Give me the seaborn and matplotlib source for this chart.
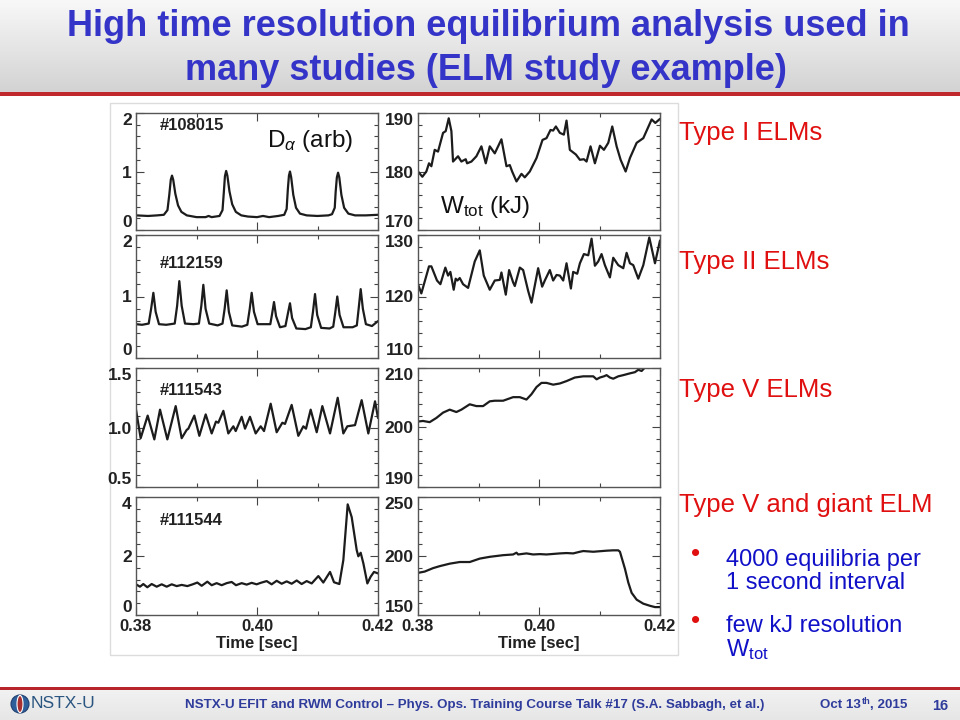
import numpy as np
import pandas as pd
import matplotlib
matplotlib.use("Agg")
import matplotlib.pyplot as plt
import seaborn as sns
from matplotlib import font_manager
from matplotlib.patches import Rectangle, Ellipse
from matplotlib.ticker import MultipleLocator, FixedLocator

# ---------------- data (time in ms) ----------------
shots = ["#108015", "#112159", "#111543", "#111544"]
shot_label_y = [0.895, 0.77, 0.815, 0.805]
elm_types = ["Type I ELMs", "Type II ELMs", "Type V ELMs", "Type V and giant ELM"]

t_da1 = [380.0, 382.0, 383.5, 384.6, 385.2, 385.5, 385.75, 385.95, 386.15, 386.5,
         386.95, 387.5, 388.4, 390.0, 391.5, 392.0, 392.5, 393.8, 394.3, 394.5,
         394.7, 394.9, 395.1, 395.45, 395.9, 396.5, 397.4, 398.5, 400.0, 401.0,
         402.0, 403.5, 404.5, 404.9, 405.1, 405.28, 405.45, 405.65, 406.0, 406.45,
         407.1, 408.2, 410.0, 411.8, 412.4, 412.85, 413.0, 413.2, 413.4, 413.6,
         413.95, 414.4, 415.1, 416.2, 418.0, 420.0]
da1 = [0.25, 0.24, 0.25, 0.26, 0.34, 0.60, 0.86, 0.93, 0.86, 0.62,
       0.42, 0.31, 0.25, 0.22, 0.22, 0.24, 0.22, 0.24, 0.34, 0.62,
       0.92, 1.01, 0.93, 0.66, 0.44, 0.31, 0.25, 0.23, 0.22, 0.24,
       0.22, 0.24, 0.26, 0.36, 0.70, 0.93, 1.00, 0.90, 0.60, 0.38,
       0.28, 0.25, 0.24, 0.25, 0.27, 0.38, 0.65, 0.90, 0.98, 0.90,
       0.60, 0.38, 0.28, 0.25, 0.25, 0.26]

t_da2 = [380.0, 381.0, 382.1, 382.5, 382.87, 383.25, 383.8, 385.0, 386.4, 386.8,
         387.16, 387.55, 388.1, 389.5, 390.4, 390.8, 391.13, 391.5, 392.1, 393.5,
         394.3, 394.65, 394.99, 395.35, 395.9, 397.5, 398.4, 398.8, 399.12, 399.5,
         400.1, 401.0, 402.2, 402.5, 402.81, 403.15, 403.8, 404.7, 405.1, 405.45,
         405.8, 406.5, 408.0, 408.9, 409.25, 409.59, 409.95, 410.6, 412.0, 412.6,
         412.95, 413.27, 413.65, 414.3, 415.8, 416.5, 416.8, 417.14, 417.5, 418.0,
         419.0, 420.0]
da2 = [0.55, 0.54, 0.56, 0.80, 1.06, 0.75, 0.55, 0.54, 0.56, 0.85,
       1.25, 0.85, 0.56, 0.55, 0.56, 0.85, 1.19, 0.80, 0.56, 0.53,
       0.56, 0.80, 1.10, 0.75, 0.53, 0.51, 0.54, 0.80, 1.06, 0.75,
       0.55, 0.55, 0.55, 0.72, 0.91, 0.68, 0.50, 0.52, 0.72, 0.89,
       0.65, 0.48, 0.47, 0.50, 0.75, 1.04, 0.70, 0.49, 0.48, 0.51,
       0.75, 1.00, 0.70, 0.50, 0.50, 0.53, 0.80, 1.12, 0.80, 0.55,
       0.52, 0.60]

t_da3 = [380.00, 380.77, 381.93, 383.03, 383.97, 385.18, 386.56, 387.55, 388.38, 388.65,
         389.64, 390.47, 391.52, 392.51, 393.22, 393.61, 394.44, 395.26, 396.09, 396.48,
         397.47, 398.02, 398.84, 399.78, 400.61, 401.16, 402.26, 403.25, 404.19, 404.63,
         405.73, 406.83, 407.66, 408.10, 408.87, 409.87, 410.80, 412.07, 413.34, 414.27,
         414.93, 416.20, 417.30, 418.40, 419.51, 420.00]
da3 = [1.15, 0.91, 1.10, 0.90, 1.15, 0.90, 1.18, 0.91, 0.98, 0.99,
       1.10, 0.93, 1.11, 0.95, 1.05, 1.04, 1.14, 0.95, 1.01, 0.97,
       1.09, 0.99, 1.09, 0.95, 1.01, 0.97, 1.20, 0.96, 1.04, 1.03,
       1.19, 0.93, 1.01, 0.99, 1.15, 0.96, 1.18, 0.95, 1.25, 0.95,
       1.01, 1.02, 1.23, 0.95, 1.22, 1.08]

t_da4 = [380.00, 380.66, 381.21, 381.87, 382.59, 383.42, 384.24, 385.07, 385.90, 386.72,
         387.55, 388.49, 389.37, 390.14, 390.85, 391.79, 392.51, 393.33, 394.16, 394.99,
         395.81, 396.53, 397.47, 398.29, 399.12, 399.94, 400.61, 401.60, 402.42, 403.25,
         404.08, 404.90, 405.73, 406.56, 407.38, 408.21, 409.04, 410.14, 410.96, 412.07,
         412.73, 413.61, 414.27, 414.99, 415.65, 416.48, 416.75, 417.14, 417.58, 418.24,
         418.79, 419.34, 420.00]
da4 = [1.04, 0.96, 1.05, 0.94, 1.05, 0.96, 1.04, 0.96, 1.04, 0.98,
       1.02, 0.98, 1.04, 1.10, 0.99, 1.13, 1.01, 1.08, 1.01, 1.08,
       1.12, 1.01, 1.08, 1.03, 1.09, 1.04, 1.09, 1.15, 1.04, 1.16,
       1.06, 1.14, 1.06, 1.17, 1.05, 1.15, 1.07, 1.32, 1.10, 1.46,
       1.11, 1.05, 1.86, 3.75, 3.32, 2.20, 1.99, 2.11, 1.75, 1.07,
       1.30, 1.46, 1.41]

t_w1 = [380.00, 380.72, 381.38, 381.82, 382.21, 382.76, 383.31, 384.14, 384.58, 385.08,
        385.52, 385.79, 386.62, 387.17, 387.89, 388.11, 388.83, 389.65, 390.48, 391.20,
        391.86, 392.69, 393.79, 394.62, 395.17, 395.56, 396.28, 397.10, 397.65, 398.48,
        399.59, 400.58, 401.24, 401.90, 402.34, 402.79, 403.45, 404.11, 404.55, 405.10,
        406.10, 406.76, 407.42, 407.86, 408.52, 409.24, 410.07, 410.73, 411.45, 412.11,
        412.83, 413.49, 414.32, 415.03, 416.14, 417.24, 418.62, 419.23, 420.00]
w1 = [180.0, 179.1, 180.0, 181.4, 180.9, 183.7, 183.4, 186.6, 186.9, 189.1,
      186.9, 181.7, 182.6, 181.7, 182.1, 181.4, 181.7, 182.6, 184.3, 181.4,
      184.3, 183.1, 185.5, 180.9, 181.1, 180.0, 178.3, 179.6, 179.0, 180.0,
      182.3, 185.4, 185.7, 187.1, 187.0, 187.7, 186.6, 186.3, 188.7, 183.7,
      182.9, 182.0, 182.1, 181.7, 184.3, 181.4, 184.4, 183.7, 184.9, 187.7,
      184.3, 182.0, 180.0, 182.3, 184.9, 185.7, 188.9, 188.3, 189.0]

t_w2 = [380.00, 380.55, 381.82, 382.21, 383.14, 383.70, 384.52, 384.97, 385.35, 385.90,
        386.23, 386.51, 386.90, 387.45, 388.28, 389.38, 390.21, 390.87, 391.86, 392.69,
        393.52, 393.79, 394.51, 395.06, 395.72, 396.00, 396.83, 397.38, 398.21, 398.76,
        399.86, 400.52, 400.96, 401.79, 402.34, 402.90, 403.45, 404.00, 404.55, 405.27,
        405.65, 406.32, 406.76, 407.42, 408.14, 408.69, 409.24, 409.79, 410.34, 410.89,
        411.72, 412.27, 413.10, 413.93, 414.48, 415.03, 415.58, 416.41, 417.24, 418.23,
        419.17, 420.00]
w2 = [122.0, 120.5, 124.9, 124.9, 122.6, 122.0, 124.7, 123.4, 124.0, 121.1,
      122.9, 122.6, 123.0, 122.0, 121.4, 125.7, 127.5, 123.4, 121.1, 122.6,
      122.7, 123.9, 120.3, 124.3, 122.3, 121.7, 124.7, 124.3, 120.9, 119.0,
      124.6, 121.6, 122.6, 124.3, 122.6, 123.5, 123.4, 122.6, 125.4, 121.3,
      124.0, 123.7, 125.4, 126.9, 126.7, 129.4, 125.0, 125.7, 126.9, 125.1,
      123.1, 126.3, 125.1, 124.6, 127.1, 125.4, 125.1, 122.9, 125.1, 129.6,
      125.4, 129.1]

t_w3 = [380.00, 380.83, 381.93, 383.03, 384.14, 385.24, 386.34, 387.17, 388.55, 389.65,
        390.76, 391.86, 392.69, 394.07, 395.72, 396.83, 397.93, 398.76, 399.59, 400.41,
        401.24, 402.34, 403.45, 404.55, 405.93, 407.31, 408.97, 409.52, 410.07, 410.73,
        411.17, 411.72, 412.27, 413.10, 413.93, 415.03, 415.86, 416.41, 416.96, 417.52,
        418.07, 418.62, 419.17, 419.72, 420.00]
w3 = [201.0, 201.1, 200.9, 201.6, 202.5, 203.0, 202.6, 203.0, 203.9, 203.6,
      203.6, 204.4, 204.5, 204.5, 205.1, 205.1, 204.7, 205.6, 206.8, 207.5,
      207.5, 207.2, 207.4, 207.8, 208.4, 208.6, 208.6, 208.1, 208.4, 208.6,
      208.8, 208.4, 208.2, 208.6, 208.8, 209.1, 209.3, 209.7, 209.5, 210.1,
      210.0, 210.6, 210.3, 210.6, 210.1]

t_w4 = [380.00, 381.10, 382.48, 383.59, 385.24, 386.90, 388.55, 390.21, 391.86, 394.07,
        395.72, 396.28, 396.55, 397.93, 399.03, 400.14, 401.24, 403.45, 404.55, 405.65,
        406.76, 407.31, 408.97, 411.17, 412.27, 413.10, 413.38, 414.21, 414.76, 415.31,
        416.14, 417.24, 418.34, 419.17, 420.00]
w4 = [185.7, 186.8, 189.7, 191.4, 193.5, 194.9, 194.9, 197.8, 199.3, 200.7,
      201.3, 202.8, 201.3, 202.2, 201.3, 201.6, 201.3, 202.2, 202.5, 202.2,
      203.6, 204.2, 203.6, 204.5, 204.8, 204.8, 203.6, 189.1, 177.5, 168.8,
      163.0, 159.6, 157.8, 156.7, 156.7]

da_ylims = [(0, 2), (0, 2), (0.5, 1.5), (0, 4)]
da_yticks = [[0, 1, 2], [0, 1, 2], [0.5, 1.0, 1.5], [0, 2, 4]]
da_yticklabels = [["0", "1", "2"], ["0", "1", "2"], ["0.5", "1.0", "1.5"], ["0", "2", "4"]]
w_ylims = [(170, 190), (110, 130), (190, 210), (150, 250)]
w_yticks = [[170, 180, 190], [110, 120, 130], [190, 200, 210], [150, 200, 250]]
x_ticks = [0.38, 0.40, 0.42]
x_ticklabels = ["0.38", "0.40", "0.42"]

# ---------------- style ----------------
sns.set_theme(style="ticks")
names = {f.name for f in font_manager.fontManager.ttflist}
NARROW = "Liberation Sans Narrow" if "Liberation Sans Narrow" in names else "Liberation Sans"
SANS = "Liberation Sans"
plt.rcParams["font.family"] = [SANS, "DejaVu Sans"]
plt.rcParams["mathtext.fontset"] = "custom"
plt.rcParams["mathtext.rm"] = SANS
plt.rcParams["mathtext.it"] = SANS + ":italic"
plt.rcParams["mathtext.bf"] = SANS + ":bold"

W, H = 960, 720
fig = plt.figure(figsize=(9.6, 7.2), dpi=100)
fig.patch.set_facecolor("white")

def fx(px):
    return px / W

def fy(py):
    return 1 - py / H

# header gradient
hax = fig.add_axes([0, fy(92), 1, 92 / H], zorder=0)
grad = np.linspace(0, 1, 100).reshape(-1, 1)
hax.imshow(grad, aspect="auto", cmap=matplotlib.colors.LinearSegmentedColormap.from_list(
    "g", ["#f8f8f8", "#d3d3d3"]), extent=[0, 1, 0, 1], origin="upper")
hax.set_axis_off()
fig.add_artist(Rectangle((0, fy(96)), 1, 4 / H, transform=fig.transFigure,
                         facecolor="#c0282d", edgecolor="none"))
# footer
fax = fig.add_axes([0, 0, 1, 31 / H], zorder=0)
fax.imshow(grad, aspect="auto", cmap=matplotlib.colors.LinearSegmentedColormap.from_list(
    "g2", ["#f2f2f2", "#e6e6e6"]), extent=[0, 1, 0, 1])
fax.set_axis_off()
fig.add_artist(Rectangle((0, fy(690)), 1, 3 / H, transform=fig.transFigure,
                         facecolor="#b8262b", edgecolor="none"))

# title
title_col = "#3434c8"
fig.text(fx(488), fy(26), "High time resolution equilibrium analysis used in",
         ha="center", va="center", fontsize=26, fontweight="bold", color=title_col,
         family=[NARROW, "DejaVu Sans"])
fig.text(fx(486), fy(70), "many studies (ELM study example)",
         ha="center", va="center", fontsize=26, fontweight="bold", color=title_col,
         family=[NARROW, "DejaVu Sans"])

# chart frame
fig.add_artist(Rectangle((fx(110), fy(655)), fx(678) - fx(110), fy(103) - fy(655),
                         transform=fig.transFigure, facecolor="white",
                         edgecolor="#dcdcdc", linewidth=1.0, zorder=0.5))

rows = [(113, 230), (235, 358), (368, 487), (497, 615)]
cols = [(136, 378), (418, 660)]
line_col = "#1c1c1c"
da_t = [t_da1, t_da2, t_da3, t_da4]
da_v = [da1, da2, da3, da4]
w_t = [t_w1, t_w2, t_w3, t_w4]
w_v = [w1, w2, w3, w4]

def style_axis(ax, ylim, yticks, ylabels, bottom_row):
    ax.set_xlim(0.38, 0.42)
    ax.set_ylim(*ylim)
    ax.xaxis.set_major_locator(FixedLocator(x_ticks))
    ax.xaxis.set_minor_locator(FixedLocator([0.39, 0.41]))
    ax.set_yticks(yticks)
    ax.set_yticklabels(ylabels)
    step = yticks[1] - yticks[0]
    ax.yaxis.set_minor_locator(MultipleLocator(step / 5))
    if bottom_row:
        ax.set_xticklabels(x_ticklabels)
        ax.set_xlabel("Time [sec]", fontsize=12, fontweight="bold", labelpad=1, color="#222222")
    else:
        ax.set_xticklabels([])
        ax.set_xlabel("")
    ax.set_ylabel("")
    ax.tick_params(which="both", direction="in", top=True, right=True,
                   color="#444444", width=0.8)
    ax.tick_params(which="major", length=6, pad=3, labelsize=12.5, labelcolor="#222222")
    ax.tick_params(axis="x", which="major", labelsize=12)
    ax.tick_params(which="minor", length=3)
    for lab in ax.get_xticklabels() + ax.get_yticklabels():
        lab.set_fontweight("bold")
    ylabs = ax.get_yticklabels()
    ylabs[0].set_verticalalignment("bottom")
    ylabs[-1].set_verticalalignment("top")
    for s in ax.spines.values():
        s.set_color("#555555")
        s.set_linewidth(1.0)
        s.set_visible(True)
    ax.set_facecolor("white")

for i, (top, bot) in enumerate(rows):
    for j, (left, right) in enumerate(cols):
        ax = fig.add_axes([fx(left), fy(bot), fx(right) - fx(left), fy(top) - fy(bot)], zorder=2)
        if j == 0:
            tt, vv = da_t[i], da_v[i]
            ylim, yt = da_ylims[i], da_yticks[i]
            yl = da_yticklabels[i]
        else:
            tt, vv = w_t[i], w_v[i]
            ylim, yt = w_ylims[i], w_yticks[i]
            yl = [str(v) for v in yt]
        assert len(tt) == len(vv)
        df = pd.DataFrame({"t": np.array(tt) / 1000.0, "v": vv})
        sns.lineplot(data=df, x="t", y="v", ax=ax, color=line_col, linewidth=1.6,
                     estimator=None, errorbar=None, sort=False,
                     solid_joinstyle="round")
        style_axis(ax, ylim, yt, yl, i == 3)
        if j == 0:
            ax.text(0.10, shot_label_y[i], shots[i], transform=ax.transAxes, fontsize=12,
                    fontweight="bold", color="#222222", ha="left", va="center")
        if i == 0 and j == 0:
            ax.text(0.54, 0.76, r"D$_{\alpha}$ (arb)", transform=ax.transAxes,
                    fontsize=17.5, color="#111111", ha="left", va="center")
        if i == 0 and j == 1:
            ax.text(0.09, 0.2, r"W$_{\rm tot}$ (kJ)", transform=ax.transAxes,
                    fontsize=17.5, color="#111111", ha="left", va="center")

# right-hand labels
red = "#e01010"
for lab, y in zip(elm_types, [133, 262, 390, 505]):
    fig.text(fx(679), fy(y), lab, fontsize=18.5, color=red, ha="left", va="center")

blue = "#1010c8"
for y in [554, 621]:
    fig.text(fx(696), fy(y), "\u2022", fontsize=19, color=red, ha="center", va="center")
fig.text(fx(726), fy(560), "4000 equilibria per", fontsize=17, color=blue, ha="left", va="center")
fig.text(fx(726), fy(583), "1 second interval", fontsize=17, color=blue, ha="left", va="center")
fig.text(fx(726), fy(626), "few kJ resolution", fontsize=17, color=blue, ha="left", va="center")
fig.text(fx(726), fy(650), r"W$_{\rm tot}$", fontsize=17, color=blue, ha="left", va="center")

# footer content
fig.add_artist(Ellipse((fx(20), fy(704)), 18 / W, 18 / H, transform=fig.transFigure,
                       facecolor="#2f5f9a", edgecolor="#1f3f70", linewidth=0.8))
fig.add_artist(Ellipse((fx(20), fy(704)), 6 / W, 17 / H, transform=fig.transFigure,
                       facecolor="#a83030", edgecolor="white", linewidth=0.8))
fig.text(fx(31), fy(704), "NSTX-U", fontsize=12.5, color="#2a5580", ha="left", va="center",
         family=[NARROW, "DejaVu Sans"])
foot_col = "#2f3c9c"
fig.text(fx(185), fy(705),
         "NSTX-U EFIT and RWM Control \u2013 Phys. Ops. Training Course Talk #17 (S.A. Sabbagh, et al.)",
         fontsize=9.6, fontweight="bold", color=foot_col, ha="left", va="center",
         family=[NARROW, "DejaVu Sans"])
fig.canvas.draw()
rend = fig.canvas.get_renderer()
t1 = fig.text(fx(820), fy(705), "Oct 13", fontsize=9.6, fontweight="bold", color=foot_col,
              ha="left", va="center", family=[NARROW, "DejaVu Sans"])
bb = t1.get_window_extent(renderer=rend)
t2 = fig.text(bb.x1 / W + 0.5 / W, fy(701), "th", fontsize=6.5, fontweight="bold", color=foot_col,
              ha="left", va="center", family=[NARROW, "DejaVu Sans"])
bb2 = t2.get_window_extent(renderer=rend)
fig.text(bb2.x1 / W, fy(705), ", 2015", fontsize=9.6, fontweight="bold", color=foot_col,
         ha="left", va="center", family=[NARROW, "DejaVu Sans"])
fig.text(fx(940), fy(706), "16", fontsize=10.5, fontweight="bold", color=foot_col,
         ha="center", va="center", family=[NARROW, "DejaVu Sans"])

fig.savefig("out.png", dpi=100)
